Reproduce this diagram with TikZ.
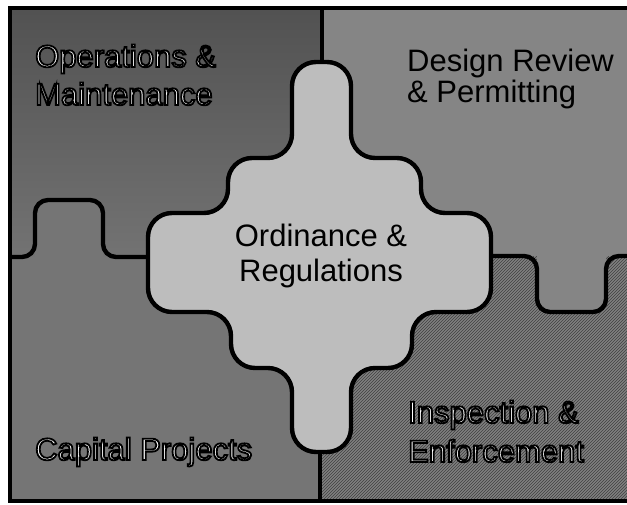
\documentclass[tikz,border=0pt]{standalone}
\usepackage{fontspec}
\setmainfont{Liberation Sans}
\usetikzlibrary{patterns}
\newcommand\outlinetext[1]{{\color{white}\special{pdf:literal direct 0 G 1.8 w 2 Tr}#1\special{pdf:literal direct 0 Tr}}}
\definecolor{tlc}{gray}{0.40}
\definecolor{trc}{gray}{0.52}
\definecolor{blc}{gray}{0.46}
\definecolor{brc}{gray}{0.50}
\definecolor{cenc}{gray}{0.74}
\tikzset{
  lbl/.style={font=\fontsize{31}{36}\selectfont, inner sep=0pt},
  divline/.style={draw=black, line width=4.4pt, rounded corners=13},
}
\begin{document}
\begin{tikzpicture}[x=1pt,y=-1pt]
\useasboundingbox (0,0) rectangle (627,505);
\clip (0,0) rectangle (627,505);
\fill[white] (0,0) rectangle (627,505);
% quadrant fills
\shade[top color=black!68, bottom color=black!55] (10,8) rectangle (322,257);
\fill[trc] (322,8) rectangle (650,257);
\fill[blc] (10,257) rectangle (322,501);
\fill[brc] (322,257) rectangle (650,501);
\fill[pattern=north east lines, pattern color=black!75] (322,257) rectangle (650,501);
% knobs of the side pieces
\fill[blc, rounded corners=20] (35,260) -- (35,200) -- (103,200) -- (103,260);
\fill[trc, rounded corners=20] (537,254) -- (537,312) -- (606,312) -- (606,254);
% dividing lines
\draw[divline] (322,8) -- (322,70);
\draw[divline] (320,440) -- (320,501);
\draw[divline] (10,257) -- (35,257) -- (35,200) -- (103,200) -- (103,257) -- (160,257);
\draw[divline] (480,256) -- (537,256) -- (537,312) -- (606,312) -- (606,256) -- (650,256);
% central piece
\draw[fill=cenc, line width=4.4pt, line cap=round, rounded corners=24]
  (148,262) -- (148,213) -- (228,213) -- (228,158) -- (292,158) -- (292,62)
  -- (351,62) -- (351,158) -- (421,158) -- (421,213) -- (491,213)
  -- (491,312) -- (412,312) -- (412,368) -- (351,368) -- (351,452)
  -- (292,452) -- (292,368) -- (231,368) -- (231,312) -- (148,312)
  -- (148,262);
% frame
\draw[line width=4.4pt] (650,8) -- (10,8) -- (10,501) -- (650,501);
% labels
\node[lbl, anchor=base west] (op1) at (35,67) {\outlinetext{Operations \&}};
\node[lbl, anchor=base west] (op2) at (35,105) {\outlinetext{Maintenance}};
\node[lbl, anchor=base west] (dr1) at (407,72) {Design Review};
\node[lbl, anchor=base west] (dr2) at (407,103) {\& Permitting};
\node[lbl, anchor=base] (or1) at (321,247) {Ordinance \&};
\node[lbl, anchor=base] (or2) at (321,282) {Regulations};
\node[lbl, anchor=base west] (cp) at (35,460) {\outlinetext{Capital Projects}};
\node[lbl, anchor=base west] (ie1) at (408,423) {\outlinetext{Inspection \&}};
\node[lbl, anchor=base west] (ie2) at (408,462) {\outlinetext{Enforcement}};
\end{tikzpicture}
\end{document}
